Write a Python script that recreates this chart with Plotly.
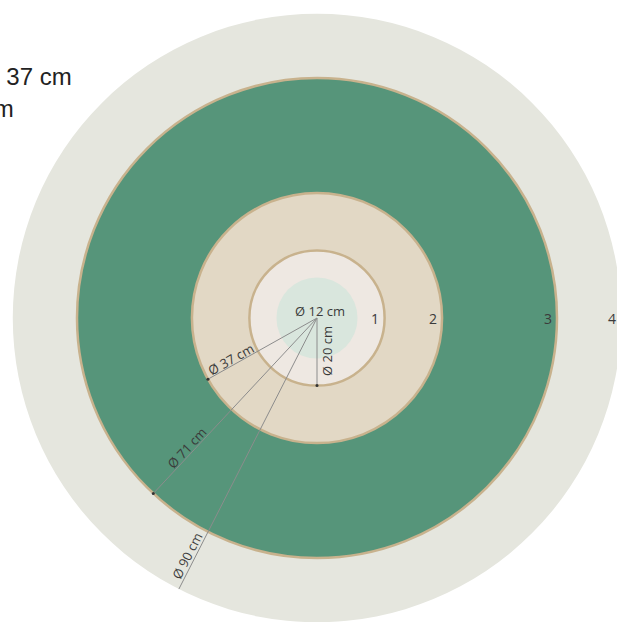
import math
import plotly.graph_objects as go

# ---------------- data ----------------
diameters_cm = [90, 71, 37, 20, 12]                 # concentric zones, outer -> inner
ring_numbers = ["1", "2", "3", "4"]
ring_number_diams = [20, 37, 71, 90]
dim_labels = ["Ø 20 cm", "Ø 37 cm", "Ø 71 cm", "Ø 90 cm"]
dim_diams = [20, 37, 71, 90]
center_label = "Ø 12 cm"
side_texts = ["Ø 37 cm", "Ø 20 cm"]

# ---------------- styles / layout helpers ----------------
W, H = 617, 622
S = 240 / 35.5            # px per cm (radius)
CX, CY = 317, 318         # pixel position of the centre inside the figure
fills = {90: "#e5e6de", 71: "#56957a", 37: "#e2d8c5", 20: "#eee8e2", 12: "#d9e6dd"}
borders = {90: None, 71: "#c8b28d", 37: "#c8b28d", 20: "#c8b28d", 12: None}
dim_angles = {20: 270, 37: 209.3, 71: 227, 90: 243}        # math degrees
dim_along_px = {20: 33, 37: 95, 71: 184, 90: 271}
dim_perp_px = {20: -10, 37: 6, 71: 6.5, 90: 8}
dim_dot = {20: True, 37: True, 71: True, 90: False}
TXT = "#3b3b3b"
FONT = "Open Sans"

fig = go.Figure()

shapes = []
for d in diameters_cm:
    r = d / 2
    b = borders[d]
    shapes.append(dict(type="circle", xref="x", yref="y", x0=-r, y0=-r, x1=r, y1=r,
                       fillcolor=fills[d], layer="below",
                       line=dict(color=b if b else fills[d], width=2.5 if b else 0)))

annotations = []
# dimension lines
dot_x, dot_y = [], []
for d, lab in zip(dim_diams, dim_labels):
    a = math.radians(dim_angles[d])
    r = d / 2
    ex, ey = r * math.cos(a), r * math.sin(a)
    fig.add_trace(go.Scatter(x=[0, ex], y=[0, ey], mode="lines",
                             line=dict(color="#8c8c8c", width=1),
                             hoverinfo="skip", showlegend=False))
    if dim_dot[d]:
        dot_x.append(ex); dot_y.append(ey)
    along = dim_along_px[d] / S
    perp = dim_perp_px[d] / S
    pa = a - math.pi / 2
    tx = along * math.cos(a) + perp * math.cos(pa)
    ty = along * math.sin(a) + perp * math.sin(pa)
    annotations.append(dict(x=tx, y=ty, xref="x", yref="y", text=lab, showarrow=False,
                            textangle=180 - dim_angles[d],
                            font=dict(family=FONT, size=13, color=TXT)))

fig.add_trace(go.Scatter(x=dot_x, y=dot_y, mode="markers",
                         marker=dict(color="#333333", size=3),
                         hoverinfo="skip", showlegend=False))

annotations.append(dict(x=0.5, y=1.0, xref="x", yref="y", text=center_label, showarrow=False,
                        font=dict(family=FONT, size=13, color=TXT)))

for lab, d in zip(ring_numbers, ring_number_diams):
    annotations.append(dict(x=d / 2 - 1.4, y=0, xref="x", yref="y", text=lab, showarrow=False,
                            font=dict(family=FONT, size=14, color=TXT)))

# partially visible texts on the upper left
for txt, xr, yc in zip(side_texts, [74, 16], [77, 108.5]):
    annotations.append(dict(x=xr / W, y=1 - yc / H, xref="paper", yref="paper",
                            xanchor="right", yanchor="middle", text=txt, showarrow=False,
                            font=dict(family="Liberation Sans, Arial", size=24, color="#222222")))

fig.update_layout(
    width=W, height=H, margin=dict(l=0, r=0, t=0, b=0),
    paper_bgcolor="white", plot_bgcolor="white",
    shapes=shapes, annotations=annotations, showlegend=False,
    xaxis=dict(range=[-CX / S, (W - CX) / S], visible=False, fixedrange=True),
    yaxis=dict(range=[-(H - CY) / S, CY / S], visible=False, fixedrange=True),
)

fig.write_html("out.html", config={"staticPlot": True, "displayModeBar": False},
               post_script="document.body.style.margin='0';")
